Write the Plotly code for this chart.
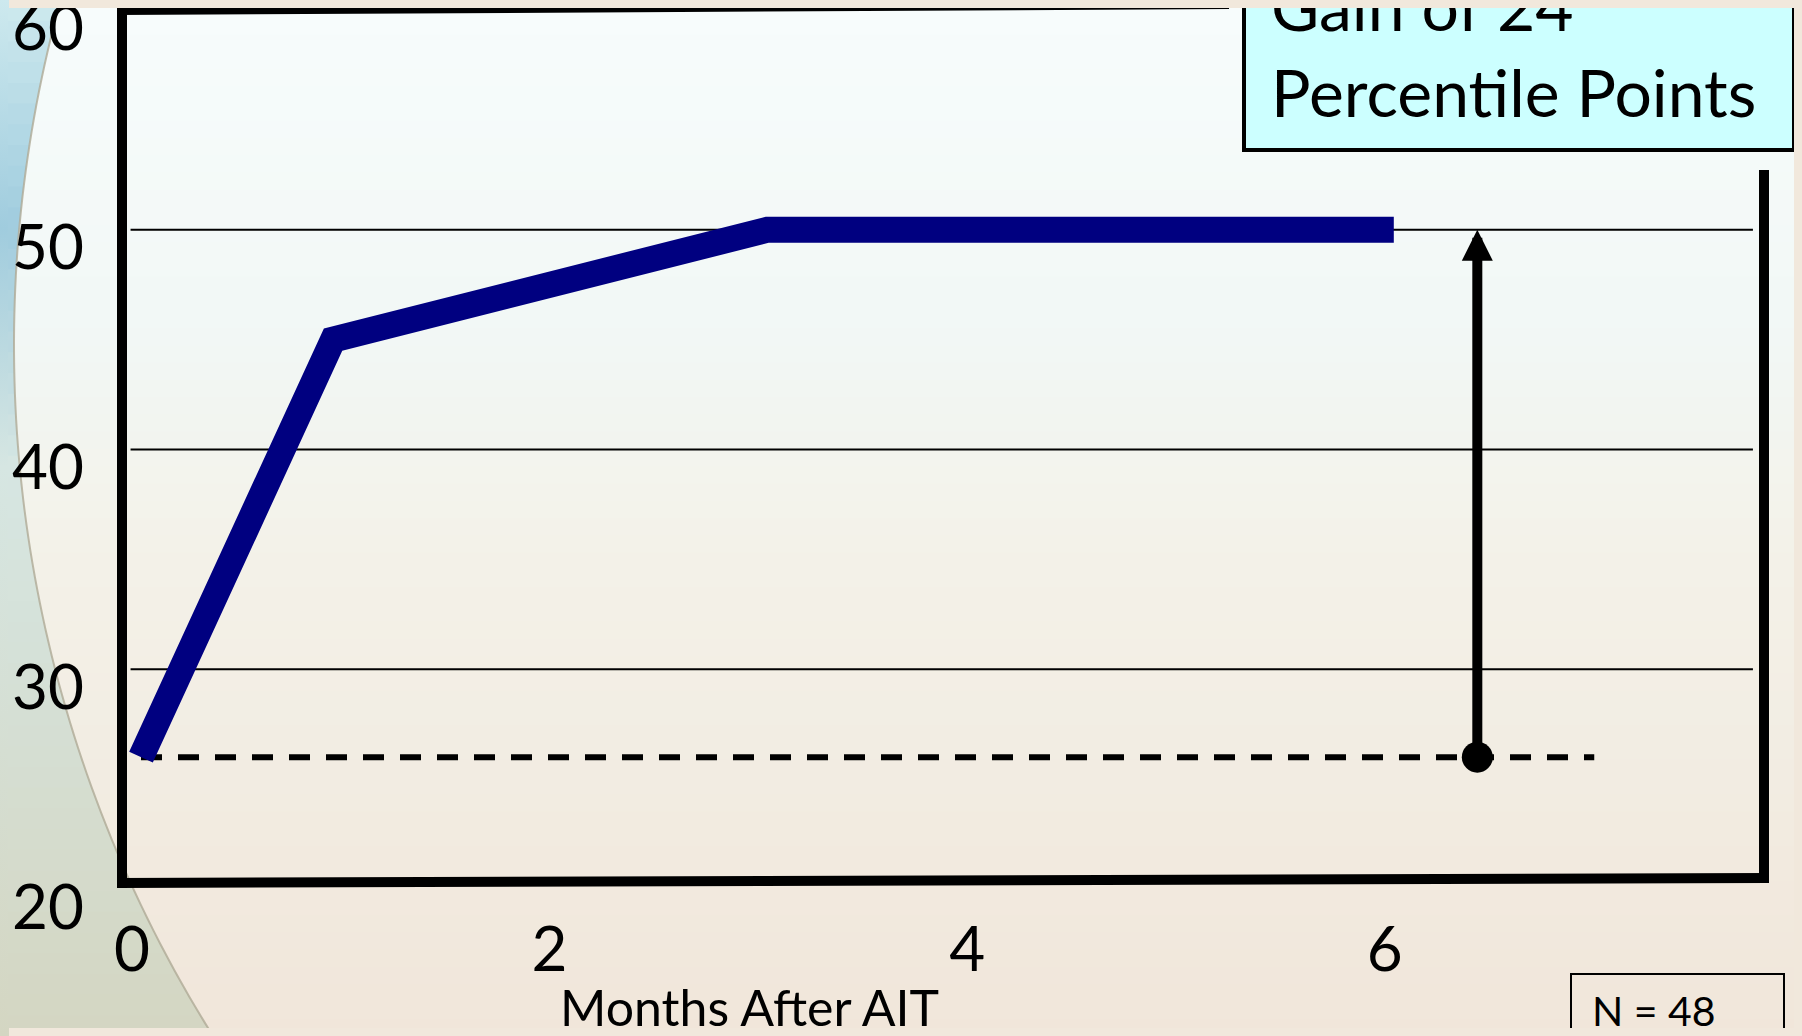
import numpy as np
import plotly.graph_objects as go

# ---------------- data ----------------
months = [0, 0.92, 3, 6]
percentile = [26, 45, 50, 50]
baseline = 26
final = 50
x_ticks = [0, 2, 4, 6]
x_tick_text = ["0", "2", "4", "6"]
y_ticks = [20, 30, 40, 50, 60]
y_tick_text = ["20", "30", "40", "50", "60"]
gridlines = [30, 40, 50]
arrow_month = 6.40
dash_end = 6.96
box_lines = ["Gain of 24", "Percentile Points"]
n_label = "N = 48"
x_title = "Months After AIT"

# page is 1802x1036; the browser body keeps an 8px margin around the figure
OFF = 8
FW, FH = 1802 - 2 * OFF, 1036 - 2 * OFF
FONT = "Lato"


def px(v):
    return (v - OFF) / FW


def py(v):
    return 1 - (v - OFF) / FH


def lerp(c1, c2, t):
    return tuple(int(round(a + (b - a) * t)) for a, b in zip(c1, c2))


def grad(stops, t):
    for (t0, c0), (t1, c1) in zip(stops[:-1], stops[1:]):
        if t <= t1:
            return lerp(c0, c1, (t - t0) / (t1 - t0) if t1 > t0 else 0)
    return stops[-1][1]


shapes = []

# background vertical gradient
bg_stops = [(0.0, (247, 252, 252)), (0.3, (242, 248, 246)), (0.55, (243, 241, 232)),
            (1.0, (241, 230, 218))]
nb = 60
for i in range(nb):
    y0 = 1036 * i / nb
    y1 = 1036 * (i + 1) / nb + 1
    c = grad(bg_stops, (i + 0.5) / nb)
    shapes.append(dict(type="rect", xref="paper", yref="paper", x0=0, x1=1,
                       y0=py(y1), y1=py(y0), line=dict(width=0),
                       fillcolor="rgb(%d,%d,%d)" % c, layer="below"))

# left decorative arc region
cx, cy, r = 1313.0, 345.0, 1299.0


def arc_x(y):
    return cx - np.sqrt(r * r - (y - cy) ** 2)


side_stops = [(0.0, (205, 233, 238)), (0.22, (160, 204, 222)), (0.45, (214, 230, 226)),
              (1.0, (212, 214, 194))]
ns = 50
for i in range(ns):
    y0 = 1036 * i / ns
    y1 = 1036 * (i + 1) / ns + 1
    c = grad(side_stops, (i + 0.5) / ns)
    pts = [(0, y0), (arc_x(y0), y0), (arc_x((y0 + y1) / 2), (y0 + y1) / 2), (arc_x(y1), y1), (0, y1)]
    path = "M " + " L ".join("%.5f,%.5f" % (px(a), py(b)) for a, b in pts) + " Z"
    shapes.append(dict(type="path", xref="paper", yref="paper", path=path,
                       fillcolor="rgb(%d,%d,%d)" % c, line=dict(width=0), layer="below"))

ys = np.linspace(0, 1036, 80)
arc_path = "M " + " L ".join("%.5f,%.5f" % (px(arc_x(y)), py(y)) for y in ys)
shapes.append(dict(type="path", xref="paper", yref="paper", path=arc_path,
                   line=dict(color="rgba(175,170,150,0.8)", width=2), layer="below"))

# gridlines
for g in gridlines:
    shapes.append(dict(type="line", xref="x", yref="y", x0=-0.05, x1=7.72, y0=g, y1=g,
                       line=dict(color="black", width=2), layer="below"))

# frame (broken outline)
frame = [((122, 5), (122, 887)),
         ((117, 10), (1229, 4)),
         ((117, 883), (1769, 878)),
         ((1764, 170), (1764, 882))]
for (a, b), (c, d) in frame:
    shapes.append(dict(type="line", xref="paper", yref="paper", x0=px(a), y0=py(b),
                       x1=px(c), y1=py(d), line=dict(color="black", width=10), layer="above"))

# gain box
shapes.append(dict(type="rect", xref="paper", yref="paper", x0=px(1244), x1=px(1794),
                   y0=py(150), y1=py(-20), fillcolor="#CCFFFF",
                   line=dict(color="black", width=4), layer="above"))
# N box
shapes.append(dict(type="rect", xref="paper", yref="paper", x0=px(1571), x1=px(1784),
                   y0=py(1050), y1=py(974), fillcolor="rgba(0,0,0,0)",
                   line=dict(color="black", width=2), layer="above"))

fig = go.Figure()

# dashed baseline
fig.add_trace(go.Scatter(x=[0, dash_end], y=[baseline, baseline], mode="lines",
                         line=dict(color="black", width=6, dash="21px,16px"),
                         hoverinfo="skip", showlegend=False))
# main line
fig.add_trace(go.Scatter(x=months, y=percentile, mode="lines",
                         line=dict(color="#000080", width=26),
                         showlegend=False))
# arrow base dot
fig.add_trace(go.Scatter(x=[arrow_month], y=[baseline], mode="markers",
                         marker=dict(color="black", size=31, symbol="circle"),
                         hoverinfo="skip", showlegend=False))

annotations = [
    dict(x=arrow_month, y=final, ax=arrow_month, ay=baseline, xref="x", yref="y",
         axref="x", ayref="y", text="", showarrow=True, arrowhead=2, arrowsize=0.62,
         arrowwidth=10, arrowcolor="black", standoff=0, startstandoff=0),
    dict(x=px(1269), y=py(47), xref="paper", yref="paper", xanchor="left", yanchor="bottom",
         text=box_lines[0], showarrow=False, font=dict(family=FONT, size=66, color="black")),
    dict(x=px(1269), y=py(133), xref="paper", yref="paper", xanchor="left", yanchor="bottom",
         text=box_lines[1], showarrow=False, font=dict(family=FONT, size=66, color="black")),
    dict(x=px(749), y=py(1039), xref="paper", yref="paper", xanchor="center", yanchor="bottom",
         text=x_title, showarrow=False, font=dict(family=FONT, size=50, color="black")),
    dict(x=px(1590), y=py(1037), xref="paper", yref="paper", xanchor="left", yanchor="bottom",
         text=n_label, showarrow=False, font=dict(family=FONT, size=41, color="black")),
]

# data mapping: x=0 at 141 px, 208.8 px per month; y=20 at 889 px, y=60 at 10 px
fig.update_layout(
    template="none",
    width=FW, height=FH,
    autosize=False,
    margin=dict(l=0, r=0, t=0, b=0, pad=0, autoexpand=False),
    paper_bgcolor="#F3F1E8",
    plot_bgcolor="rgba(0,0,0,0)",
    showlegend=False,
    shapes=shapes,
    annotations=annotations,
    font=dict(family=FONT, color="black"),
    xaxis=dict(domain=[px(122), px(1764)], range=[-0.091, 7.773],
               tickmode="array", tickvals=x_ticks, ticktext=x_tick_text,
               showgrid=False, zeroline=False, showline=False, ticks="",
               automargin=False, ticklabeloverflow="allow",
               tickfont=dict(family=FONT, size=62, color="black"),
               ticklabelstandoff=19, ticklabelshift=-9),
    yaxis=dict(domain=[py(889), py(10)], range=[20, 60],
               tickmode="array", tickvals=y_ticks, ticktext=y_tick_text,
               showgrid=False, zeroline=False, showline=False, ticks="",
               automargin=False, ticklabeloverflow="allow",
               tickfont=dict(family=FONT, size=62, color="black"),
               ticklabelstandoff=37, ticklabelshift=18),
)

# colour the 8px page border so it blends with the slide background
page_bg = ("document.body.style.background="
           "'linear-gradient(to right, rgba(0,0,0,0) 9px, rgb(241,232,220) 9px), "
           "linear-gradient(rgb(205,233,238), rgb(160,204,222) 22%, rgb(214,230,226) 45%, rgb(212,214,194))';")
fig.write_html("out.html", config={"displayModeBar": False, "responsive": False},
               post_script=page_bg)
